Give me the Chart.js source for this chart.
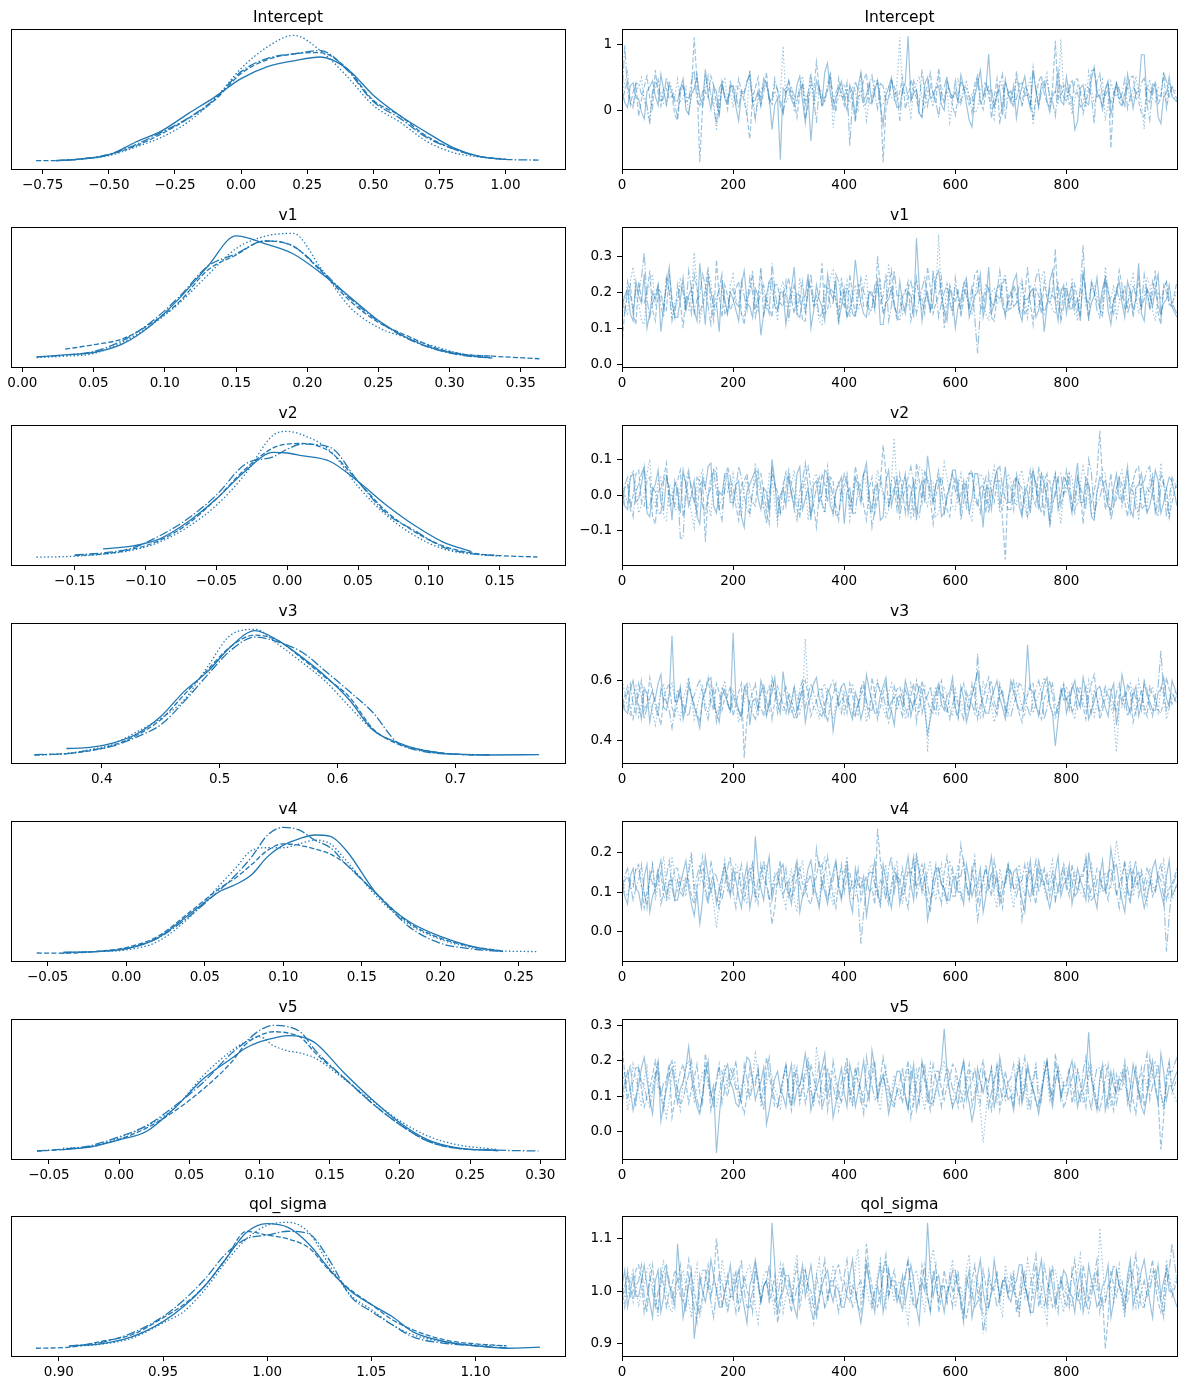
<!DOCTYPE html>
<html>
<head>
<meta charset="utf-8">
<script src="https://cdn.jsdelivr.net/npm/chart.js@4.4.1/dist/chart.umd.min.js"></script>
<style>
  body { margin: 0; background: #fff; width: 1187px; height: 1389px; position: relative; overflow: hidden; }
  canvas { position: absolute; }
</style>
</head>
<body>
<script>
// draw numbers shown in the trace panels (every 5th draw, last one 999)
const draws = [
  0,5,10,15,20,25,30,35,40,45,50,55,60,65,70,75,80,85,90,95,
  100,105,110,115,120,125,130,135,140,145,150,155,160,165,170,175,180,185,190,195,
  200,205,210,215,220,225,230,235,240,245,250,255,260,265,270,275,280,285,290,295,
  300,305,310,315,320,325,330,335,340,345,350,355,360,365,370,375,380,385,390,395,
  400,405,410,415,420,425,430,435,440,445,450,455,460,465,470,475,480,485,490,495,
  500,505,510,515,520,525,530,535,540,545,550,555,560,565,570,575,580,585,590,595,
  600,605,610,615,620,625,630,635,640,645,650,655,660,665,670,675,680,685,690,695,
  700,705,710,715,720,725,730,735,740,745,750,755,760,765,770,775,780,785,790,795,
  800,805,810,815,820,825,830,835,840,845,850,855,860,865,870,875,880,885,890,895,
  900,905,910,915,920,925,930,935,940,945,950,955,960,965,970,975,980,985,990,999
];
const traceTicks = [0, 200, 400, 600, 800];

// ---- Intercept ----
const interceptRange = [-0.87, 1.225];
const interceptKdeTicks = [-0.75, -0.5, -0.25, 0, 0.25, 0.5, 0.75, 1.0];
const interceptTraceTicks = [0, 1];
const interceptGrid = [-0.775,-0.7,-0.6,-0.5,-0.4,-0.3,-0.2,-0.1,0,0.1,0.2,0.3,0.4,0.5,0.6,0.7,0.8,0.9,1.0,1.125];
const interceptKde = [
  [null,.016,.03,.06,.16,.25,.385,.515,.66,.755,.80,.83,.74,.53,.37,.24,.12,.05,.026,null],
  [.016,.016,.03,.063,.13,.227,.346,.49,.70,.81,.855,.865,.74,.49,.37,.21,.11,.05,.026,null],
  [null,.016,.028,.055,.121,.20,.32,.50,.74,.91,1.0,.88,.68,.45,.32,.17,.08,.045,.024,null],
  [null,.016,.03,.065,.14,.24,.35,.50,.715,.82,.855,.88,.73,.48,.35,.20,.11,.05,.026,.02]
];
const interceptTrace = [
  [.31,.12,.05,.38,.42,.20,.18,-.02,-.12,.29,.36,.45,.22,.08,.55,.31,.09,.40,.27,.16,
   .14,.33,.48,.02,-.05,.26,.33,.51,.21,.10,.62,.24,.02,.37,.29,-.10,.44,.19,.11,.35,
   .38,.06,-.15,.27,.25,.43,.57,.13,.16,.30,.07,.49,.41,.22,-.28,.09,.19,-.73,.34,.28,
   .34,.17,.08,.39,.52,.15,-.18,.24,-.45,.11,.45,.32,.13,.58,.71,.26,.03,.20,.30,.44,
   .17,.01,.39,.27,-.09,.36,.58,.14,.24,.42,.12,.29,.46,.07,-.21,.23,.35,.50,.20,.05,
   .06,.31,.43,1.12,.15,.26,.32,-.04,-.08,.40,.50,.18,.23,.34,.37,.09,.01,.47,.28,.21,
   .28,.13,.54,.36,.10,-.14,-.24,.22,.40,.61,.19,.33,.85,.17,.05,.28,.31,-.06,.47,.25,
   .12,.38,-.11,.20,.36,.52,.22,.04,.58,.30,.08,.41,.44,.15,-.02,.26,.27,.60,.15,.09,
   .51,.24,.20,-.28,-.16,.34,.39,.13,.09,.48,.66,.21,.24,.02,.33,.45,-.06,.18,.42,.30,
   .18,.07,.55,.32,.04,.27,.29,.84,.84,.16,.13,.40,.37,-.09,-.19,.22,.26,.51,.21,.14],
  [.12,.30,.45,.09,.28,.41,-.08,.17,.36,.52,.19,.04,.61,.27,.07,.35,.33,.18,.23,-.06,
   -.14,.25,.40,.13,.17,.31,1.1,.46,-.77,.06,.29,.20,.52,.38,.10,-.03,.37,.24,.02,.43,
   .26,.11,.48,.30,.14,-.07,-.42,.19,.35,.50,.09,.27,.58,.12,.21,.39,.31,.16,-.03,.33,
   .44,.22,.16,-.10,.27,.41,-.12,.08,.39,.29,.73,.34,.05,.18,.30,.55,.18,-.02,.49,.26,
   .08,.32,.34,.14,-.17,.21,.25,.47,.56,.10,.13,.36,.42,.24,-.77,.03,.20,.44,.37,.15,
   .28,.50,.03,.19,.47,.31,.19,-.05,-.10,.26,.38,.57,.23,.11,.64,.29,.11,.35,.32,.07,
   -.07,.21,.45,.33,.24,.09,.15,.40,.53,.18,.02,.28,.36,-.11,.21,.48,-.20,.14,.41,.30,
   .17,.05,.59,.25,.09,.37,.30,.16,-.13,.22,.44,.53,.26,.12,.06,.34,1.05,.19,.22,.39,
   .35,.10,.12,.46,.48,.27,-.04,.15,.27,.60,.62,.31,.18,.08,.31,.42,-.56,.20,.40,.13,
   .07,.28,.33,.50,.52,.19,.14,-.04,-.09,.37,.29,.24,.45,.11,.19,.58,.03,.26,.36,.17],
  [.24,.41,.58,.16,.03,.29,.37,.50,.15,.02,-.19,.26,.42,.33,.28,.11,.09,.45,.33,.20,
   .47,.14,.20,.38,-.06,.23,.31,.54,.13,.06,.55,.32,.26,.18,-.30,.12,.39,.48,.17,.29,
   .05,.36,.35,.21,.22,-.04,.61,.27,-.11,.15,.29,.43,.44,.19,.10,.30,.18,.24,.97,.12,
   .21,.37,-.02,.16,.38,.52,.14,.25,.49,.08,.25,.40,.07,.21,.34,.47,-.25,.13,.19,.31,
   .40,.23,.12,.35,.30,-.01,.57,.28,-.14,.18,.23,.46,.45,.09,.08,.33,.36,.20,.16,.42,
   1.1,.25,.27,.14,-.09,.34,.41,.52,.18,.03,.32,.24,.06,.39,.53,.17,.22,.30,-.17,.12,
   .34,.49,.11,.26,.46,.15,.25,-.03,.02,.31,.38,.44,.20,.08,-.12,.27,.43,.35,.15,.22,
   .29,.12,.50,.37,.07,.24,.35,.48,-.21,.14,.24,.31,.41,.56,.13,.20,.31,.09,1.07,.28,
   .19,.40,-.05,.16,.37,.29,.26,.05,.58,.33,.10,.25,.33,.47,-.15,.12,.44,.28,.21,.36,
   .06,.23,.39,.14,.17,.52,.28,.09,-.27,.30,.47,.18,.14,.35,.32,.26,.09,.43,.25,.13],
  [.19,.98,.30,.12,.06,.41,.41,.25,.22,.08,-.16,.31,.35,.47,.13,.20,.50,.28,.27,.10,
   -.09,.36,.39,.21,.17,.44,.60,.15,.08,.29,.32,.52,.24,.05,-.20,.33,.43,.19,.15,.38,
   .36,.24,.04,.30,.28,.45,.52,.12,-.13,.26,.21,.37,.38,.18,.11,.49,.31,.07,-.04,.23,
   .46,.32,.23,.15,.33,.40,.09,.27,.57,.19,-.18,.35,.26,.12,.40,.54,.14,.28,.35,.22,
   .20,.42,-.52,.17,.44,.31,.29,.06,.12,.36,.53,.25,.03,.41,.37,.16,.18,.48,.25,.29,
   -.15,.33,.40,.21,.16,.45,.31,.08,.62,.27,.07,.39,.28,.14,-.10,.30,.36,.51,.22,.18,
   .45,.13,.13,.36,.34,.24,-.03,.29,.50,.11,.19,.42,.27,.33,.08,.21,.39,.55,-.12,.26,
   .30,.17,.17,.40,.42,.23,.24,.09,.65,.34,.05,.29,.33,.46,.21,.14,-.08,.37,.38,.20,
   .15,.31,.47,.25,.28,.06,.10,.39,.34,.22,-.19,.45,.56,.18,.23,.32,.12,.27,.41,.16,
   .26,.48,.03,.20,.35,.29,.18,.42,.49,.10,-.14,.34,.31,.23,.22,.57,.44,.19,.36,.27]
];

// ---- v1 ----
const v1Range = [-0.008, 0.381];
const v1KdeTicks = [0, 0.05, 0.1, 0.15, 0.2, 0.25, 0.3, 0.35];
const v1TraceTicks = [0, 0.1, 0.2, 0.3];
const v1Grid = [0.01,0.03,0.05,0.07,0.09,0.11,0.13,0.15,0.17,0.19,0.21,0.23,0.25,0.27,0.29,0.31,0.33,0.363];
const v1Kde = [
  [.029,.045,.064,.13,.275,.487,.74,.98,.92,.84,.685,.50,.315,.18,.09,.045,.019,null],
  [null,.09,.125,.17,.29,.46,.71,.83,.94,.90,.70,.47,.30,.196,.10,.05,.035,.015],
  [.024,.035,.056,.143,.275,.45,.67,.88,.976,1.0,.72,.42,.26,.18,.11,.05,.035,null],
  [.029,.045,.072,.156,.30,.50,.74,.84,.94,.90,.71,.49,.31,.175,.088,.04,.02,null]
];
const v1Trace = [
  [.16,.19,.21,.14,.12,.23,.19,.17,.25,.10,.14,.20,.18,.22,.09,.16,.22,.27,.17,.13,
   .13,.18,.24,.15,.19,.21,.15,.12,.28,.19,.11,.24,.20,.16,.17,.09,.23,.18,.14,.20,
   .18,.15,.12,.22,.26,.17,.16,.13,.21,.19,.08,.14,.19,.23,.24,.16,.15,.20,.20,.11,
   .17,.21,.27,.14,.13,.18,.19,.25,.10,.15,.22,.18,.16,.12,.25,.20,.18,.23,.12,.16,
   .21,.13,.15,.19,.29,.22,.17,.14,.13,.20,.20,.16,.24,.11,.11,.17,.18,.21,.16,.14,
   .23,.17,.14,.20,.19,.13,.35,.22,.12,.18,.20,.15,.17,.24,.26,.19,.15,.12,.21,.18,
   .10,.16,.18,.22,.24,.13,.16,.19,.20,.25,.13,.17,.27,.14,.17,.21,.22,.16,.14,.19,
   .19,.23,.25,.15,.12,.18,.18,.20,.21,.13,.15,.19,.09,.16,.23,.26,.17,.12,.20,.22,
   .14,.19,.22,.16,.18,.12,.26,.20,.13,.17,.19,.24,.16,.21,.24,.15,.11,.18,.20,.23,
   .17,.13,.23,.20,.15,.18,.28,.14,.12,.21,.19,.16,.21,.25,.14,.17,.18,.22,.16,.13],
  [.05,.15,.19,.22,.14,.11,.23,.18,.17,.20,.26,.15,.12,.21,.20,.16,.15,.25,.18,.13,
   .22,.17,.10,.19,.18,.14,.25,.21,.14,.17,.21,.27,.16,.12,.29,.19,.13,.22,.19,.15,
   .17,.21,.23,.14,.11,.18,.20,.25,.15,.19,.27,.13,.18,.16,.13,.22,.22,.17,.16,.20,
   .24,.18,.14,.20,.19,.12,.12,.23,.21,.16,.17,.19,.28,.14,.15,.21,.20,.18,.11,.24,
   .18,.13,.25,.19,.13,.22,.22,.16,.16,.20,.19,.15,.30,.21,.14,.17,.21,.26,.17,.12,
   .15,.19,.20,.23,.12,.16,.24,.18,.18,.14,.27,.21,.14,.17,.19,.24,.10,.16,.22,.19,
   .17,.21,.13,.18,.23,.15,.19,.25,.26,.16,.15,.20,.21,.13,.12,.19,.18,.22,.24,.15,
   .16,.22,.20,.15,.14,.19,.27,.17,.11,.21,.19,.14,.23,.18,.17,.20,.32,.16,.13,.21,
   .21,.16,.15,.22,.18,.13,.25,.19,.12,.23,.20,.17,.16,.14,.23,.20,.14,.18,.19,.26,
   .22,.15,.17,.20,.13,.18,.24,.16,.18,.21,.15,.19,.26,.14,.11,.22,.20,.17,.16,.23],
  [.20,.16,.14,.23,.27,.19,.17,.12,.11,.20,.22,.25,.16,.18,.19,.15,.24,.21,.13,.17,
   .18,.24,.21,.15,.15,.19,.31,.22,.12,.16,.19,.25,.23,.14,.16,.21,.20,.17,.14,.22,
   .25,.18,.17,.14,.13,.20,.21,.26,.18,.15,.26,.19,.15,.23,.20,.17,.12,.21,.23,.16,
   .16,.20,.19,.13,.24,.18,.14,.21,.22,.16,.17,.12,.11,.19,.20,.24,.26,.17,.15,.20,
   .19,.23,.13,.18,.22,.15,.18,.21,.25,.14,.16,.20,.20,.23,.14,.17,.28,.19,.17,.13,
   .12,.18,.21,.16,.17,.22,.23,.19,.15,.21,.19,.14,.26,.20,.36,.18,.13,.22,.18,.15,
   .22,.19,.16,.23,.20,.15,.14,.18,.24,.21,.18,.14,.12,.20,.21,.17,.17,.23,.25,.19,
   .15,.21,.19,.14,.23,.18,.13,.22,.20,.16,.16,.24,.26,.19,.18,.15,.14,.20,.21,.17,
   .19,.15,.24,.18,.12,.21,.20,.16,.17,.23,.22,.19,.15,.13,.27,.20,.18,.22,.13,.17,
   .21,.18,.16,.22,.25,.19,.14,.17,.19,.24,.22,.15,.12,.20,.18,.21,.23,.16,.17,.20],
  [.18,.14,.23,.19,.15,.21,.20,.24,.31,.18,.13,.17,.19,.22,.16,.13,.24,.20,.12,.16,
   .17,.22,.20,.15,.26,.21,.14,.18,.19,.25,.22,.16,.11,.19,.18,.21,.25,.14,.15,.20,
   .21,.17,.16,.23,.19,.15,.24,.20,.13,.17,.20,.22,.17,.14,.28,.21,.15,.18,.19,.23,
   .12,.19,.22,.16,.18,.23,.15,.20,.25,.17,.19,.13,.14,.22,.21,.16,.17,.25,.23,.18,
   .16,.21,.20,.14,.13,.18,.24,.20,.18,.15,.15,.22,.22,.17,.19,.25,.12,.16,.26,.19,
   .19,.14,.16,.21,.23,.19,.14,.18,.21,.24,.18,.15,.25,.20,.13,.17,.20,.22,.17,.14,
   .24,.18,.15,.21,.19,.16,.22,.13,.03,.15,.18,.22,.21,.17,.16,.20,.26,.19,.13,.17,
   .20,.16,.17,.22,.23,.14,.15,.20,.19,.24,.26,.18,.14,.17,.21,.19,.18,.23,.12,.16,
   .22,.17,.19,.14,.15,.21,.33,.18,.17,.22,.20,.15,.13,.19,.24,.21,.16,.14,.21,.18,
   .18,.22,.14,.17,.22,.19,.19,.15,.25,.20,.16,.23,.20,.17,.13,.21,.23,.18,.17,.14]
];

// ---- v2 ----
const v2Range = [-0.195, 0.196];
const v2KdeTicks = [-0.15, -0.1, -0.05, 0, 0.05, 0.1, 0.15];
const v2TraceTicks = [-0.1, 0, 0.1];
const v2Grid = [-0.177,-0.15,-0.13,-0.11,-0.09,-0.07,-0.05,-0.03,-0.01,0,0.01,0.03,0.05,0.07,0.09,0.11,0.13,0.15,0.1765];
const v2Kde = [
  [null,null,.077,.098,.156,.29,.47,.685,.835,.83,.81,.765,.606,.42,.26,.13,.056,null,null],
  [null,.024,.037,.072,.143,.275,.47,.70,.87,.90,.905,.84,.606,.37,.21,.10,.045,.024,.013],
  [.011,.019,.035,.065,.13,.25,.42,.66,.97,1.0,.975,.85,.566,.34,.18,.077,.037,.022,null],
  [null,.03,.045,.082,.18,.315,.50,.74,.80,.86,.90,.875,.606,.355,.22,.09,.04,.02,null]
];
const v2Trace = [
  [.02,-.03,-.04,.05,.06,-.02,-.01,.03,.08,-.05,-.06,.01,.03,.07,-.02,-.04,.05,.02,-.07,.04,
   .01,-.05,.07,.03,-.03,.00,.04,-.06,-.08,.05,.02,.08,.09,-.03,-.05,.01,.00,.06,.06,-.02,
   -.02,.03,.04,-.06,-.09,.01,.03,.05,.07,-.01,-.04,.02,.01,-.05,.10,.04,-.06,.00,.02,-.03,
   .05,.00,-.03,.06,.08,-.04,-.01,.02,-.07,.03,.04,-.02,.00,.07,.06,-.03,-.05,.01,.03,.05,
   -.08,.01,.02,-.04,.05,.03,-.02,.06,.09,-.01,-.04,.02,.03,-.07,-.06,.04,.07,-.03,.01,.05,
   -.03,.02,.06,-.05,.00,.04,-.07,.01,.04,-.02,.11,.05,-.02,.03,.05,-.06,-.05,.00,.02,.07,
   .07,.01,-.04,.03,.03,-.05,-.01,.06,.06,.00,-.09,.02,.02,-.04,.04,.07,-.03,.01,.08,-.02,
   -.02,.04,.05,-.03,-.06,.02,.01,-.05,.07,.03,-.04,.06,.03,-.01,-.08,.02,.06,-.04,.00,.05,
   .04,.00,-.05,.03,.09,-.02,-.02,.05,.03,-.06,-.07,.01,.05,.04,.01,-.03,-.04,.02,.06,-.01,
   -.01,.03,.08,-.04,-.06,.02,.03,.06,.00,-.05,-.03,.01,.07,.04,-.05,-.02,.02,.05,.04,-.03],
  [-.05,.02,.03,-.04,.00,.06,.07,-.02,-.03,.04,.05,-.06,-.08,.01,.02,.05,.09,-.03,-.02,.03,
   .04,.07,-.06,-.01,.06,.02,-.01,-.05,.03,.04,-.13,.00,.05,.07,.01,-.04,-.04,.02,.08,.05,
   .02,-.03,-.07,.03,.04,.06,.00,-.02,-.03,.05,.06,.01,-.05,-.08,.08,.03,.01,-.05,-.04,.02,
   .07,.03,.00,-.04,-.06,.01,.05,.08,.02,-.03,-.09,.00,.06,.03,-.02,.05,.04,-.06,-.05,.01,
   .03,.06,-.04,.00,.08,.04,.01,-.03,-.07,.02,.05,-.05,-.01,.03,.14,.06,-.03,.00,.02,-.04,
   .06,.01,-.05,.03,.02,-.06,.09,.04,-.02,.07,.04,-.01,-.08,.00,.03,.05,.01,-.04,-.06,.02,
   .05,-.02,.00,.04,-.04,.06,.07,-.01,-.03,.02,.03,-.05,.06,.01,-.02,.04,.04,-.07,-.18,.03,
   .02,-.04,.06,.03,-.05,.00,.03,.07,-.01,-.03,.08,.02,-.06,.04,.04,-.02,.00,.05,-.03,.01,
   .07,.02,-.02,-.05,.05,.01,-.08,.03,.03,-.02,.01,.06,.18,.04,-.04,.00,.06,-.03,-.01,.05,
   .03,-.02,-.06,.01,.04,.07,.08,-.04,-.03,.02,.01,.05,-.05,-.02,.06,.03,.02,-.06,-.02,.04],
  [.04,.00,-.02,.05,.07,.02,-.05,-.03,.01,.06,.10,-.01,-.03,.04,.05,-.06,-.07,.03,.02,-.04,
   -.04,.02,.06,.03,.00,-.05,-.09,.01,.05,.07,.02,-.02,-.06,.04,.08,-.03,-.01,.05,.03,.00,
   .06,.02,-.03,-.06,.02,.05,-.06,.01,.09,.03,.00,-.04,-.04,.06,.05,-.02,-.08,.00,.01,.07,
   -.02,.03,.07,-.01,-.05,.04,.03,-.07,.00,.05,.06,.02,-.03,-.05,.08,.03,-.06,.01,.04,-.02,
   .01,.05,-.07,-.02,.05,.00,-.02,.06,.03,-.04,-.05,.02,.07,.03,.00,-.06,-.04,.04,.16,.02,
   -.01,.04,.05,-.02,-.06,.03,.02,.08,.07,-.01,-.03,.04,.04,-.06,-.05,.01,.09,.05,.00,-.03,
   -.04,.02,.06,.00,.01,-.05,-.07,.03,.03,.06,.05,-.02,-.02,.04,.08,.01,-.05,-.04,.02,.06,
   .04,-.01,-.03,.05,.07,.02,-.06,-.04,.02,.04,.00,.06,.05,-.03,-.04,.03,.06,-.02,-.08,.01,
   .01,.06,.05,-.02,-.03,.03,.08,.04,-.01,-.05,-.06,.01,.03,.07,.06,-.03,-.05,.00,.02,.05,
   .07,.02,-.02,-.05,.04,.01,-.07,.03,.01,-.04,.05,.06,-.04,.00,.09,.03,-.01,-.06,.03,.02],
  [-.01,.03,.05,-.02,-.06,.01,.03,.06,.08,-.04,-.03,.02,.01,-.05,-.05,.04,.06,.00,.00,-.03,
   .03,-.12,-.12,.04,.07,.01,-.02,.05,.04,-.03,-.05,.00,.02,.07,.06,-.04,-.07,.02,.01,.04,
   -.03,.02,.08,.05,.00,-.04,-.05,.01,.04,.07,.02,-.03,-.08,.00,.06,.03,-.01,-.05,.03,.06,
   .05,.01,-.04,-.07,.01,.04,.09,.02,-.06,-.02,.02,.05,-.02,-.05,.05,.03,.00,-.03,-.07,.02,
   .06,.03,-.01,-.05,-.05,.02,.03,.06,.07,.00,-.09,-.04,.04,.05,.01,-.02,-.03,.04,.05,.00,
   -.06,-.01,.02,.05,.08,.03,-.04,-.06,.00,.04,.05,.01,-.02,.03,.07,.02,-.05,-.01,.03,.06,
   .01,.04,-.07,-.02,.04,.06,.06,.00,-.02,-.05,.02,.05,-.05,.01,.03,.07,.08,.02,-.01,-.04,
   -.04,.01,.05,.03,.02,-.03,-.06,.04,.07,.02,-.02,-.05,.04,.06,-.09,-.03,.01,.05,.06,.00,
   .03,.06,-.04,-.01,.05,.02,.00,-.04,.10,.06,-.05,-.02,-.01,.03,.04,.01,-.07,-.03,.02,.05,
   -.03,.01,.06,.02,.01,-.04,-.05,.03,.04,.07,.08,.00,-.04,-.06,.02,.04,-.06,-.01,.05,.02]
];

// ---- v3 ----
const v3Range = [0.323, 0.793];
const v3KdeTicks = [0.4, 0.5, 0.6, 0.7];
const v3TraceTicks = [0.4, 0.6];
const v3Grid = [0.343,0.37,0.39,0.41,0.43,0.45,0.47,0.49,0.51,0.53,0.55,0.57,0.59,0.61,0.63,0.65,0.67,0.70,0.73,0.771];
const v3Kde = [
  [null,.064,.072,.109,.18,.315,.513,.67,.87,.99,.91,.78,.63,.447,.21,.115,.056,.019,.013,.016],
  [.013,.024,.045,.09,.17,.29,.487,.685,.87,.955,.91,.77,.62,.47,.22,.103,.056,.019,.013,null],
  [.013,.024,.055,.103,.196,.30,.447,.71,.96,1.0,.88,.74,.59,.394,.21,.11,.05,.019,.016,null],
  [.016,.024,.05,.085,.156,.25,.434,.645,.84,.94,.90,.82,.67,.513,.347,.117,.045,.019,.013,null]
];
const v3Trace = [
  [.55,.50,.49,.57,.60,.53,.52,.47,.57,.56,.46,.52,.54,.59,.62,.51,.50,.55,.75,.53,
   .53,.58,.47,.51,.58,.55,.51,.48,.44,.54,.56,.60,.61,.52,.49,.46,.55,.57,.52,.50,
   .76,.54,.50,.48,.57,.59,.45,.53,.54,.50,.60,.56,.48,.53,.56,.61,.52,.49,.63,.55,
   .49,.53,.58,.50,.53,.57,.46,.52,.55,.59,.61,.54,.51,.48,.57,.55,.43,.50,.54,.58,
   .59,.55,.50,.47,.56,.53,.47,.51,.62,.57,.53,.49,.49,.55,.58,.61,.52,.50,.45,.54,
   .55,.51,.60,.56,.48,.53,.54,.58,.57,.50,.42,.47,.53,.56,.59,.52,.50,.55,.56,.61,
   .51,.48,.58,.54,.46,.50,.55,.59,.63,.56,.52,.49,.49,.54,.57,.60,.54,.51,.47,.53,
   .60,.56,.53,.50,.50,.55,.72,.57,.56,.52,.48,.54,.59,.61,.52,.49,.38,.47,.55,.58,
   .49,.53,.57,.60,.54,.51,.61,.56,.47,.50,.53,.57,.58,.54,.51,.48,.56,.59,.45,.52,
   .62,.57,.52,.49,.55,.58,.48,.52,.59,.55,.53,.50,.50,.56,.57,.61,.54,.51,.60,.55],
  [.52,.55,.58,.50,.47,.53,.55,.60,.50,.52,.61,.56,.53,.49,.45,.54,.57,.59,.51,.48,
   .54,.57,.49,.52,.60,.55,.52,.49,.46,.53,.57,.61,.53,.50,.59,.56,.50,.54,.55,.58,
   .48,.52,.56,.59,.34,.47,.53,.56,.59,.51,.51,.48,.55,.58,.47,.53,.58,.55,.52,.49,
   .56,.53,.50,.47,.54,.58,.60,.55,.48,.51,.53,.57,.57,.50,.46,.52,.55,.59,.51,.54,
   .53,.49,.59,.55,.49,.52,.55,.58,.52,.48,.61,.56,.47,.51,.56,.59,.50,.53,.54,.57,
   .58,.54,.51,.48,.55,.59,.46,.52,.60,.56,.53,.50,.49,.55,.57,.60,.52,.49,.55,.58,
   .50,.47,.56,.59,.53,.50,.59,.55,.47,.52,.54,.58,.61,.53,.51,.48,.55,.57,.49,.54,
   .57,.60,.52,.49,.46,.53,.55,.58,.59,.51,.50,.47,.54,.56,.60,.55,.48,.52,.56,.59,
   .53,.56,.49,.52,.58,.55,.51,.47,.55,.59,.62,.54,.47,.50,.54,.57,.57,.52,.50,.55,
   .55,.51,.59,.56,.46,.50,.53,.57,.51,.48,.58,.55,.54,.50,.49,.53,.61,.57,.52,.55],
  [.60,.56,.51,.48,.55,.58,.48,.52,.58,.55,.53,.49,.45,.51,.56,.59,.52,.56,.59,.54,
   .50,.47,.54,.57,.61,.55,.47,.51,.55,.58,.52,.49,.58,.54,.49,.52,.56,.60,.53,.50,
   .57,.53,.46,.50,.53,.57,.59,.54,.51,.48,.55,.58,.48,.52,.60,.56,.54,.51,.50,.53,
   .52,.49,.58,.55,.49,.53,.74,.56,.55,.51,.50,.47,.57,.59,.53,.50,.47,.52,.56,.58,
   .49,.53,.55,.59,.52,.48,.58,.55,.46,.51,.54,.57,.60,.56,.51,.48,.56,.59,.53,.50,
   .54,.57,.47,.51,.59,.55,.52,.49,.56,.58,.36,.50,.55,.58,.49,.53,.58,.55,.51,.48,
   .57,.53,.53,.50,.48,.55,.55,.58,.51,.47,.60,.56,.54,.51,.46,.50,.58,.55,.52,.49,
   .53,.56,.59,.55,.51,.48,.56,.59,.49,.53,.55,.58,.61,.57,.52,.49,.47,.51,.57,.54,
   .58,.54,.50,.47,.55,.58,.53,.50,.60,.56,.48,.52,.54,.57,.57,.53,.51,.48,.36,.50,
   .51,.55,.56,.59,.53,.49,.60,.56,.49,.52,.55,.58,.52,.49,.58,.55,.47,.51,.54,.57],
  [.49,.53,.56,.59,.52,.49,.59,.55,.47,.51,.54,.57,.51,.48,.57,.54,.53,.50,.44,.51,
   .57,.54,.52,.49,.48,.53,.55,.58,.60,.56,.50,.47,.54,.57,.46,.50,.58,.55,.53,.49,
   .55,.52,.50,.47,.58,.55,.52,.49,.47,.51,.56,.59,.53,.50,.61,.57,.49,.53,.55,.58,
   .54,.51,.47,.50,.57,.60,.51,.55,.59,.56,.53,.49,.48,.52,.55,.58,.60,.56,.52,.49,
   .56,.53,.52,.49,.48,.52,.57,.60,.53,.50,.50,.54,.59,.56,.55,.51,.46,.50,.58,.54,
   .51,.48,.57,.54,.53,.50,.60,.56,.49,.53,.55,.58,.52,.49,.58,.55,.54,.51,.47,.52,
   .55,.52,.50,.47,.56,.53,.52,.49,.69,.57,.48,.52,.57,.60,.53,.50,.59,.55,.51,.48,
   .48,.52,.55,.59,.58,.54,.51,.48,.54,.57,.60,.56,.47,.51,.56,.59,.52,.49,.57,.53,
   .54,.50,.59,.56,.50,.53,.55,.58,.52,.49,.57,.54,.49,.52,.58,.55,.53,.50,.56,.59,
   .52,.56,.48,.51,.57,.54,.54,.50,.60,.57,.51,.48,.55,.58,.70,.56,.50,.53,.56,.52]
];

// ---- v4 ----
const v4Range = [-0.0734, 0.2794];
const v4KdeTicks = [-0.05, 0, 0.05, 0.1, 0.15, 0.2, 0.25];
const v4TraceTicks = [0, 0.1, 0.2];
const v4Grid = [-0.057,-0.04,-0.02,0,0.02,0.04,0.06,0.07,0.08,0.09,0.10,0.11,0.12,0.13,0.14,0.16,0.18,0.20,0.22,0.24,0.2625];
const v4Kde = [
  [null,.019,.024,.045,.13,.315,.50,.553,.63,.77,.86,.91,.94,.93,.82,.47,.26,.143,.064,.024,null],
  [.013,.011,.024,.056,.143,.33,.526,.606,.71,.82,.87,.86,.83,.79,.71,.47,.25,.13,.064,.029,null],
  [null,.015,.024,.037,.103,.29,.553,.685,.82,.84,.84,.87,.90,.87,.74,.45,.24,.12,.056,.029,.024],
  [null,.015,.024,.05,.13,.30,.513,.63,.77,.94,1.0,.98,.90,.84,.71,.47,.22,.09,.045,.024,null]
];
const v4Trace = [
  [.12,.09,.07,.14,.16,.11,.10,.06,.14,.17,.05,.09,.11,.15,.18,.12,.09,.13,.13,.08,
   .08,.12,.15,.18,.11,.07,.04,.10,.02,.08,.19,.14,.10,.13,.07,.11,.14,.17,.12,.09,
   .16,.13,.09,.06,.13,.17,.06,.10,.24,.15,.11,.08,.15,.19,.08,.12,.12,.16,.17,.11,
   .10,.07,.14,.17,.05,.09,.12,.16,.18,.13,.09,.06,.13,.10,.07,.12,.15,.18,.11,.08,
   .13,.16,.08,.05,.16,.12,.11,.14,.04,.09,.14,.18,.10,.07,.17,.13,.09,.06,.12,.15,
   .07,.11,.15,.19,.12,.08,.19,.15,.10,.14,.03,.07,.13,.16,.16,.12,.11,.08,.08,.13,
   .14,.10,.10,.07,.17,.13,.09,.12,.12,.16,.05,.09,.15,.19,.11,.14,.07,.10,.13,.17,
   .11,.15,.16,.12,.08,.05,.14,.18,.10,.13,.18,.14,.12,.09,.06,.10,.15,.19,.09,.12,
   .13,.17,.07,.11,.16,.13,.11,.08,.20,.15,.09,.06,.14,.18,.10,.13,.21,.16,.17,.12,
   .08,.05,.13,.16,.11,.14,.15,.10,.06,.09,.12,.16,.18,.13,.10,.07,.14,.18,.09,.12],
  [.09,.13,.14,.11,.11,.16,.17,.12,.06,.10,.13,.17,.10,.14,.15,.09,.08,.12,.12,.16,
   .16,.12,.10,.14,.13,.09,.07,.11,.15,.19,.11,.08,.18,.13,.09,.06,.12,.16,.14,.10,
   .11,.15,.15,.10,.08,.12,.13,.17,.10,.07,.17,.13,.12,.09,.02,.06,.14,.18,.09,.12,
   .13,.09,.10,.14,.16,.12,.12,.08,.07,.11,.14,.18,.11,.15,.19,.14,.09,.06,.13,.17,
   .10,.14,.15,.11,.12,.16,.08,.12,.14,.10,.11,.07,.26,.18,.13,.10,.07,.11,.16,.13,
   .12,.16,.09,.06,.14,.18,.11,.15,.17,.13,.08,.05,.13,.17,.10,.07,.15,.19,.12,.09,
   .09,.13,.22,.17,.11,.08,.14,.18,.07,.11,.13,.16,.12,.09,.18,.14,.10,.06,.14,.17,
   .15,.11,.11,.14,.03,.08,.13,.16,.10,.07,.16,.12,.12,.15,.09,.13,.14,.10,.11,.15,
   .12,.09,.17,.13,.10,.14,.14,.18,.08,.11,.12,.16,.15,.11,.11,.08,.13,.17,.09,.12,
   .14,.18,.10,.07,.16,.12,.12,.15,.09,.13,.13,.09,.11,.15,.17,.13,.08,.11,.12,.16],
  [.14,.10,.09,.13,.12,.16,.16,.11,.10,.07,.13,.17,.08,.12,.15,.19,.11,.08,.19,.14,
   .10,.14,.13,.09,.17,.20,.09,.12,.12,.16,.15,.11,.11,.07,.01,.08,.14,.18,.10,.13,
   .13,.17,.16,.12,.10,.07,.14,.18,.08,.11,.12,.16,.17,.13,.11,.15,.15,.11,.09,.06,
   .12,.16,.08,.05,.15,.18,.11,.14,.14,.10,.10,.07,.16,.19,.13,.09,.07,.11,.12,.16,
   .15,.19,.11,.08,.09,.13,.14,.10,.12,.16,.17,.13,.10,.06,.13,.17,.08,.12,.14,.18,
   .10,.07,.13,.16,.16,.12,.20,.16,.12,.09,.15,.18,.11,.08,.14,.17,.09,.13,.18,.14,
   .13,.17,.08,.11,.12,.09,.15,.19,.10,.14,.14,.10,.11,.15,.09,.06,.16,.12,.12,.16,
   .10,.06,.14,.17,.12,.09,.17,.13,.09,.12,.13,.16,.11,.08,.15,.18,.08,.11,.13,.17,
   .16,.12,.11,.15,.13,.10,.09,.13,.14,.17,.12,.09,.10,.14,.15,.11,.11,.16,.23,.18,
   .12,.09,.15,.18,.09,.12,.13,.16,.11,.07,.16,.12,.10,.14,.14,.18,.12,.08,.08,.12],
  [.11,.14,.16,.12,.08,.11,.13,.17,.10,.06,.15,.12,.12,.16,.07,.10,.14,.18,.11,.08,
   .13,.10,.09,.12,.15,.19,.11,.14,.17,.13,.10,.07,.12,.15,.14,.11,.08,.12,.16,.19,
   .10,.06,.13,.17,.11,.14,.16,.12,.09,.13,.14,.18,.12,.08,.10,.14,.15,.11,.13,.16,
   .09,.12,.15,.18,.12,.09,.10,.13,.14,.10,.21,.16,.17,.12,.08,.11,.13,.17,.12,.09,
   .14,.18,.10,.13,.13,.08,-.03,.05,.11,.15,.15,.12,.09,.13,.12,.08,.16,.19,.10,.14,
   .13,.09,.11,.15,.15,.19,.09,.12,.14,.17,.12,.08,.10,.14,.16,.12,.11,.07,.13,.16,
   .10,.14,.14,.18,.12,.09,.16,.12,.03,.08,.13,.17,.11,.15,.15,.11,.09,.13,.12,.16,
   .15,.11,.09,.12,.13,.17,.11,.08,.14,.18,.10,.13,.16,.12,.12,.15,.08,.11,.14,.17,
   .11,.15,.13,.09,.10,.14,.15,.19,.12,.08,.09,.13,.14,.10,.11,.15,.16,.12,.10,.06,
   .13,.17,.11,.08,.15,.18,.09,.12,.12,.16,.14,.10,.10,.14,.13,.09,-.05,.04,.11,.15]
];

// ---- v5 ----
const v5Range = [-0.077, 0.3176];
const v5KdeTicks = [-0.05, 0, 0.05, 0.1, 0.15, 0.2, 0.25, 0.3];
const v5TraceTicks = [0, 0.1, 0.2, 0.3];
const v5Grid = [-0.0585,-0.04,-0.02,0,0.02,0.04,0.06,0.08,0.09,0.10,0.11,0.12,0.13,0.14,0.16,0.18,0.20,0.22,0.24,0.27,0.2986];
const v5Kde = [
  [null,.024,.045,.10,.17,.355,.58,.74,.82,.87,.90,.92,.91,.86,.63,.42,.235,.10,.04,.015,null],
  [.013,.024,.05,.105,.196,.33,.50,.71,.85,.92,.95,.94,.90,.78,.59,.39,.22,.09,.035,.019,null],
  [null,.035,.045,.117,.21,.355,.606,.80,.87,.91,.84,.80,.78,.74,.58,.41,.25,.13,.064,.024,null],
  [.013,.027,.056,.125,.215,.37,.553,.78,.87,.96,1.0,.99,.94,.80,.59,.39,.22,.09,.035,.019,.013]
];
const v5Trace = [
  [.10,.14,.17,.12,.06,.10,.13,.18,.21,.15,.09,.05,.15,.19,.03,.08,.12,.16,.18,.13,
   .08,.12,.14,.18,.24,.16,.11,.07,.05,.10,.16,.20,.10,.13,-.06,.04,.13,.17,.19,.14,
   .12,.08,.07,.11,.16,.21,.20,.15,.09,.12,.14,.18,.02,.06,.11,.15,.17,.12,.10,.07,
   .15,.19,.08,.12,.13,.17,.22,.16,.06,.10,.12,.15,.18,.22,.10,.14,.04,.08,.14,.18,
   .11,.07,.19,.15,.07,.11,.15,.20,.12,.09,.23,.18,.09,.13,.16,.12,.05,.09,.13,.17,
   .17,.13,.10,.06,.14,.19,.06,.10,.20,.16,.12,.08,.08,.12,.15,.19,.29,.17,.11,.07,
   .09,.13,.16,.20,.12,.08,.03,.07,.18,.14,.11,.15,.14,.18,.07,.11,.21,.16,.13,.09,
   .10,.06,.15,.19,.08,.12,.19,.15,.12,.09,.05,.10,.16,.20,.11,.07,.14,.18,.09,.13,
   .13,.17,.20,.14,.07,.11,.12,.16,.28,.15,.10,.06,.15,.19,.06,.10,.17,.13,.11,.15,
   .14,.18,.08,.12,.19,.15,.11,.07,.05,.10,.16,.20,.12,.08,.22,.17,.09,.13,.13,.17],
  [.25,.16,.09,.13,.14,.18,.18,.12,.07,.10,.12,.16,.20,.15,.10,.06,.15,.19,.04,.09,
   .13,.17,.19,.14,.08,.12,.15,.19,.11,.08,.22,.16,.06,.10,.14,.18,.17,.12,.10,.14,
   .16,.20,.12,.08,.05,.10,.18,.14,.13,.17,.09,.13,.21,.16,.11,.07,.07,.11,.15,.19,
   .10,.06,.17,.13,.13,.16,.08,.12,.19,.15,.12,.08,.15,.19,.06,.11,.20,.15,.11,.08,
   .14,.18,.09,.13,.18,.14,.12,.08,.07,.12,.16,.20,.11,.15,.21,.16,.13,.09,.08,.12,
   .12,.08,.16,.20,.04,.09,.14,.18,.19,.14,.10,.06,.13,.17,.17,.12,.09,.13,.15,.19,
   .18,.14,.11,.07,.15,.19,.07,.11,.13,.17,.20,.15,.10,.06,.14,.18,.06,.11,.17,.13,
   .11,.07,.15,.19,.09,.13,.18,.14,.12,.08,.07,.11,.16,.20,.13,.09,.22,.16,.10,.14,
   .14,.18,.08,.12,.17,.13,.11,.07,.19,.15,.12,.08,.06,.10,.15,.19,.10,.06,.16,.12,
   .12,.16,.18,.13,.09,.05,.14,.18,.07,.11,.21,.16,.13,.09,-.05,.04,.16,.20,.11,.15],
  [.13,.17,.06,.10,.19,.15,.11,.07,.15,.19,.09,.13,.17,.12,.12,.08,.04,.09,.16,.20,
   .10,.06,.14,.18,.20,.15,.08,.12,.13,.17,.17,.13,.11,.07,.07,.11,.15,.19,.12,.16,
   .18,.14,.09,.13,.14,.10,.11,.15,.22,.17,.07,.11,.13,.17,.16,.12,.10,.06,.14,.18,
   .12,.08,.19,.15,.08,.12,.15,.19,.11,.07,.24,.18,.09,.13,.13,.17,.17,.13,.06,.10,
   .15,.19,.11,.07,.17,.13,.08,.12,.13,.17,.19,.15,.10,.06,.14,.18,.07,.11,.16,.12,
   .09,.13,.14,.18,.12,.08,.18,.14,.10,.06,.15,.19,.07,.11,.13,.17,.20,.15,.11,.07,
   .16,.12,.08,.12,.13,.17,.17,.13,.10,.06,-.03,.05,.14,.18,.12,.08,.19,.15,.09,.13,
   .13,.09,.17,.21,.11,.15,.06,.10,.15,.19,.12,.08,.20,.16,.09,.13,.14,.18,.16,.12,
   .10,.14,.13,.09,.18,.14,.08,.12,.15,.19,.11,.07,.14,.18,.19,.15,.07,.11,.12,.16,
   .17,.13,.11,.07,.14,.18,.09,.13,.16,.12,.13,.17,.20,.15,.10,.06,.15,.19,.12,.08],
  [.08,.12,.15,.19,.11,.07,.18,.14,.13,.09,.07,.11,.16,.20,.10,.14,.14,.18,.20,.15,
   .12,.08,.09,.13,.16,.20,.13,.09,.06,.10,.19,.15,.11,.07,.15,.19,.08,.12,.14,.18,
   .16,.12,.12,.08,.19,.15,.09,.13,.14,.18,.10,.06,.17,.21,.13,.09,.07,.11,.15,.19,
   .11,.07,.14,.18,.09,.13,.17,.21,.12,.08,.15,.19,.06,.10,.18,.14,.13,.09,.10,.14,
   .17,.21,.12,.08,.15,.19,.09,.05,.21,.16,.13,.09,.10,.14,.16,.12,.12,.08,.07,.11,
   .14,.18,.10,.06,.18,.14,.12,.08,.15,.19,.08,.12,.19,.15,.11,.07,.14,.18,.16,.12,
   .11,.07,.16,.20,.09,.13,.14,.18,.12,.08,.18,.14,.07,.11,.15,.19,.13,.09,.10,.14,
   .15,.19,.12,.08,.17,.21,.10,.06,.14,.18,.08,.12,.16,.20,.13,.09,.19,.15,.11,.07,
   .09,.13,.15,.19,.12,.08,.17,.21,.10,.06,.14,.18,.18,.14,.11,.07,.13,.17,.08,.12,
   .16,.20,.10,.06,.14,.18,.12,.08,.18,.22,.09,.13,.15,.19,.11,.07,.13,.17,.17,.21]
];

// ---- qol_sigma ----
const qolRange = [0.877, 1.143];
const qolKdeTicks = [0.9, 0.95, 1.0, 1.05, 1.1];
const qolTraceTicks = [0.9, 1.0, 1.1];
const qolGrid = [0.889,0.905,0.92,0.935,0.95,0.96,0.97,0.98,0.99,1.00,1.01,1.02,1.03,1.04,1.05,1.06,1.07,1.085,1.10,1.115,1.131];
const qolKde = [
  [null,.029,.045,.10,.22,.34,.50,.71,.92,.99,.96,.83,.63,.46,.355,.26,.14,.064,.03,.011,.019],
  [.011,.019,.064,.117,.25,.355,.50,.71,.93,.90,.87,.80,.62,.47,.355,.235,.156,.077,.045,.03,null],
  [null,.024,.042,.09,.21,.30,.47,.685,.87,.976,1.0,.92,.66,.43,.315,.196,.117,.06,.037,.03,null],
  [null,.029,.055,.13,.26,.39,.553,.75,.87,.90,.93,.91,.70,.42,.30,.196,.10,.05,.03,.013,null]
];
const qolTrace = [
  [1.01,1.04,.97,1.00,1.03,.99,.99,1.02,1.05,1.01,.98,.95,1.02,1.04,.96,.99,1.04,1.01,1.00,.97,
   1.09,1.02,.95,.98,1.01,1.04,.91,.96,1.03,1.00,.98,1.01,1.06,1.03,1.00,.97,.97,1.00,1.02,1.05,
   .99,1.02,1.04,1.00,.97,.94,1.01,1.03,1.06,1.02,.98,1.01,1.02,.99,1.13,1.05,.96,.99,1.00,1.03,
   1.03,1.00,.97,.95,1.02,1.05,.99,1.02,1.05,1.01,.96,.99,1.01,1.03,1.04,1.00,.98,1.01,1.00,.97,
   .97,1.00,1.03,1.06,1.00,.97,.94,.98,1.06,1.02,.99,.96,1.02,1.05,.96,.99,1.04,1.01,1.01,.98,
   1.00,1.03,.98,1.01,1.05,1.02,.97,.94,1.02,1.00,1.13,1.04,.99,1.02,1.03,.99,.96,1.00,1.01,1.04,
   1.04,1.01,.98,.95,1.01,1.04,.95,.98,1.03,1.06,1.00,.97,.97,1.00,1.06,1.02,.99,1.02,1.02,.99,
   .98,1.01,1.02,1.05,1.05,1.01,.99,.96,.96,1.00,1.03,1.06,1.00,.97,1.04,1.01,.97,1.00,1.01,1.04,
   1.03,1.00,.99,.96,1.01,1.04,.96,.99,1.05,1.02,1.00,.97,.98,1.01,1.02,1.05,.95,.98,1.04,1.01,
   1.00,.97,1.03,1.06,.97,1.00,1.01,1.04,1.06,1.02,.98,.95,1.02,1.05,.99,1.02,1.04,1.00,1.00,.97],
  [.98,1.01,1.03,.99,1.00,1.04,1.05,1.02,.96,.99,1.02,1.05,.99,.96,1.04,1.01,.97,1.00,1.01,1.04,
   1.03,.99,.98,1.01,1.06,1.03,1.00,.97,.96,.99,1.02,1.05,.99,1.02,1.10,1.04,.97,1.00,1.03,.99,
   1.01,1.04,.96,.99,1.03,1.00,.99,.96,1.05,1.02,.98,1.01,1.02,.98,1.00,1.03,.94,.97,1.04,1.01,
   .99,.96,1.02,1.05,.97,1.00,1.04,1.01,1.00,.97,.95,.98,1.03,1.06,.98,1.01,1.01,1.04,1.05,1.02,
   1.02,.99,.98,1.01,1.00,.97,.96,1.00,1.09,1.04,1.01,.98,.97,1.00,1.03,1.06,.99,1.02,1.04,1.00,
   .98,1.01,1.03,1.06,1.01,.98,.97,1.00,1.05,1.02,.99,.96,1.02,1.05,.96,.99,1.04,1.01,1.00,.97,
   1.03,1.00,.99,.96,.95,.98,1.02,1.05,1.00,.97,1.04,1.01,.97,1.00,1.01,1.04,.98,1.01,1.03,1.00,
   1.00,1.03,.96,.99,1.04,1.01,.99,.96,1.02,1.05,.97,1.00,1.05,1.02,1.00,.97,.98,1.01,1.02,.99,
   .97,1.00,1.03,1.06,1.00,.97,1.05,1.02,.98,1.01,1.01,1.04,.96,.99,.89,.95,1.04,1.01,.99,1.02,
   1.02,.99,.98,1.01,1.04,1.07,1.00,.97,.97,1.00,1.03,1.06,1.01,.98,.96,.99,1.05,1.02,.99,1.02],
  [1.02,.99,.99,1.02,1.04,1.01,.97,1.00,1.01,1.04,1.05,1.02,.98,.95,1.03,1.06,1.00,.97,.96,.99,
   1.00,1.03,1.04,1.01,.98,.95,1.02,1.05,.95,.98,1.03,1.00,.99,1.02,1.01,.98,1.06,1.03,.97,1.00,
   1.03,1.00,.98,1.01,1.01,1.04,1.05,1.02,.97,.94,1.00,1.03,1.04,1.01,.99,.96,1.02,1.05,.96,.99,
   1.01,.98,1.04,1.07,.99,1.02,1.02,.99,.96,1.00,1.03,1.06,1.00,.97,.98,1.01,1.05,1.02,1.01,.98,
   .99,1.02,1.02,.99,1.05,1.08,.98,1.01,1.01,.98,.97,1.00,1.03,1.06,1.00,.97,1.04,1.01,.98,1.01,
   1.02,.99,.97,.94,1.00,1.03,1.04,1.01,.99,.96,1.02,1.05,1.08,1.04,.98,1.01,1.01,.98,1.03,1.06,
   .97,1.00,1.01,.98,1.04,1.07,.99,1.02,1.02,.99,.96,.93,1.03,1.00,1.00,1.03,.98,.95,1.05,1.02,
   1.01,1.04,.98,.95,1.02,.99,1.06,1.03,.99,1.02,1.03,1.00,.97,.94,1.01,1.04,1.04,1.01,.99,.96,
   1.02,.99,.97,1.00,1.04,1.07,1.00,.97,.99,1.02,1.03,1.00,1.12,1.05,.98,1.01,1.01,.98,1.02,1.05,
   .98,.95,1.02,1.05,1.00,.97,1.04,1.01,.97,1.00,1.01,1.04,1.03,1.00,.99,.96,1.06,1.03,1.00,1.03],
  [1.00,.97,1.04,1.01,.98,1.01,1.02,1.05,.99,.96,1.03,1.00,.97,1.00,1.01,1.04,1.05,1.02,.98,1.01,
   1.02,1.05,.99,.96,1.03,1.00,.97,.94,1.01,1.04,1.04,1.01,.98,.95,1.00,1.03,1.02,.99,.96,.99,
   .99,.96,1.03,1.06,1.00,.97,.97,1.00,1.04,1.01,.98,1.01,1.02,1.05,1.01,.98,.99,1.02,1.05,1.02,
   1.02,.99,.98,1.01,1.01,1.04,1.04,1.01,.97,.94,1.03,1.00,1.00,.97,.99,1.02,1.02,.99,.96,.99,
   1.03,1.06,1.00,.97,.98,1.01,1.02,.99,1.05,1.02,.97,1.00,1.01,.98,1.04,1.07,.99,1.02,1.02,.99,
   .99,.96,1.03,1.06,1.00,.97,.97,1.00,1.02,1.05,.99,.96,1.04,1.01,.98,1.01,1.01,.98,1.03,1.00,
   1.01,1.04,.97,.94,1.03,1.00,1.00,.97,.98,1.01,.92,.96,1.04,1.01,1.00,.97,.99,1.02,1.02,.99,
   1.03,1.00,.99,.96,1.01,1.04,.98,1.01,1.04,1.07,1.00,.97,.97,1.00,1.02,1.05,.99,.96,1.03,1.00,
   1.00,.97,1.04,1.01,.98,1.01,1.01,.98,.96,.99,1.03,1.06,1.00,.97,.98,1.01,1.02,1.05,1.04,1.01,
   .99,.96,1.01,1.04,1.03,1.00,.97,1.00,1.02,.99,1.00,1.03,1.04,1.01,.98,.95,1.01,1.04,1.09,1.02]
];

// ---- layout and styles ----
const COLOR = "#1f77b4";
const TRACE_COLOR = "rgba(31, 119, 180, 0.45)";
const FONT = '"DejaVu Sans", sans-serif';
const CHAIN_DASH = [[], [5.1, 2.2], [1.4, 2.3], [8.9, 2.2, 1.4, 2.2]];
const LEFT_BOX = { x: 11, w: 554 };
const RIGHT_BOX = { x: 622, w: 555 };
const ROW_TOPS = [29, 227, 425, 623, 821, 1019, 1216];
const BOX_H = 140;
const PAD = { l: 46, t: 32, r: 8, b: 30 };

const params = [
  { name: "Intercept", range: interceptRange, grid: interceptGrid, kde: interceptKde, trace: interceptTrace, kdeTicks: interceptKdeTicks, kdeDec: 2, traceTicks: interceptTraceTicks, traceDec: 0 },
  { name: "v1", range: v1Range, grid: v1Grid, kde: v1Kde, trace: v1Trace, kdeTicks: v1KdeTicks, kdeDec: 2, traceTicks: v1TraceTicks, traceDec: 1 },
  { name: "v2", range: v2Range, grid: v2Grid, kde: v2Kde, trace: v2Trace, kdeTicks: v2KdeTicks, kdeDec: 2, traceTicks: v2TraceTicks, traceDec: 1 },
  { name: "v3", range: v3Range, grid: v3Grid, kde: v3Kde, trace: v3Trace, kdeTicks: v3KdeTicks, kdeDec: 1, traceTicks: v3TraceTicks, traceDec: 1 },
  { name: "v4", range: v4Range, grid: v4Grid, kde: v4Kde, trace: v4Trace, kdeTicks: v4KdeTicks, kdeDec: 2, traceTicks: v4TraceTicks, traceDec: 1 },
  { name: "v5", range: v5Range, grid: v5Grid, kde: v5Kde, trace: v5Trace, kdeTicks: v5KdeTicks, kdeDec: 2, traceTicks: v5TraceTicks, traceDec: 1 },
  { name: "qol_sigma", range: qolRange, grid: qolGrid, kde: qolKde, trace: qolTrace, kdeTicks: qolKdeTicks, kdeDec: 2, traceTicks: qolTraceTicks, traceDec: 1 }
];

function fmt(v, dec) {
  return Number(v).toFixed(dec).replace("-", "\u2212");
}

// frame round the plot area + panel title
const framePlugin = {
  id: "frame",
  afterDraw(chart, args, opts) {
    const { ctx, chartArea: a } = chart;
    ctx.save();
    ctx.strokeStyle = "#000";
    ctx.lineWidth = 1;
    ctx.strokeRect(Math.round(a.left) + 0.5, Math.round(a.top) + 0.5, Math.round(a.width), Math.round(a.height));
    ctx.fillStyle = "#000";
    ctx.font = "15.5px " + FONT;
    ctx.textAlign = "center";
    ctx.textBaseline = "alphabetic";
    ctx.fillText(opts.title, (a.left + a.right) / 2, a.top - 7);
    ctx.restore();
  }
};

function axis(min, max, ticks, dec, showTicks, horizontal) {
  return {
    type: "linear",
    min, max,
    afterBuildTicks: s => { s.ticks = ticks.map(v => ({ value: v })); },
    afterFit: s => { if (horizontal) s.height = PAD.b; else s.width = PAD.l; },
    ticks: {
      display: showTicks,
      autoSkip: false,
      maxRotation: 0,
      color: "#000",
      padding: horizontal ? 3 : 5,
      font: { family: FONT, size: 13.5 },
      callback: v => fmt(v, dec)
    },
    grid: { drawOnChartArea: false, drawTicks: showTicks, tickLength: 5, color: "#000", lineWidth: 1 },
    border: { display: false }
  };
}

function makePanel(box, top, title, datasets, xAxis, yAxis) {
  const c = document.createElement("canvas");
  const w = box.w + PAD.l + PAD.r, h = BOX_H + PAD.t + PAD.b;
  c.width = w; c.height = h;
  c.style.left = (box.x - PAD.l) + "px";
  c.style.top = (top - PAD.t) + "px";
  c.style.width = w + "px"; c.style.height = h + "px";
  document.body.appendChild(c);
  new Chart(c, {
    type: "line",
    data: { datasets },
    options: {
      responsive: false,
      animation: false,
      parsing: false,
      layout: { padding: { top: PAD.t, right: PAD.r, left: 0, bottom: 0 } },
      plugins: { legend: { display: false }, tooltip: { enabled: false }, frame: { title } },
      scales: { x: xAxis, y: yAxis }
    },
    plugins: [framePlugin]
  });
}

params.forEach((p, row) => {
  const top = ROW_TOPS[row];

  // left: density of every chain
  const kdeSets = p.kde.map((ys, c) => ({
    data: p.grid.map((x, i) => ({ x, y: ys[i] })).filter(pt => pt.y !== null),
    borderColor: COLOR,
    borderWidth: 1.3,
    borderDash: CHAIN_DASH[c],
    pointRadius: 0,
    cubicInterpolationMode: "monotone",
    fill: false,
    order: 3 - c
  }));
  makePanel(LEFT_BOX, top, p.name, kdeSets,
    axis(p.range[0], p.range[1], p.kdeTicks, p.kdeDec, true, true),
    axis(-0.05, 1.05, [], 0, false, false));

  // right: trace of every chain
  const traceSets = p.trace.map((ys, c) => ({
    data: ys.map((y, i) => ({ x: draws[i], y })).filter(pt => pt.x !== undefined),
    borderColor: TRACE_COLOR,
    borderWidth: 1.15,
    borderDash: CHAIN_DASH[c],
    pointRadius: 0,
    tension: 0,
    fill: false,
    order: 3 - c
  }));
  makePanel(RIGHT_BOX, top, p.name, traceSets,
    axis(0, 999, traceTicks, 0, true, true),
    axis(p.range[0], p.range[1], p.traceTicks, p.traceDec, true, false));
});
</script>
</body>
</html>
